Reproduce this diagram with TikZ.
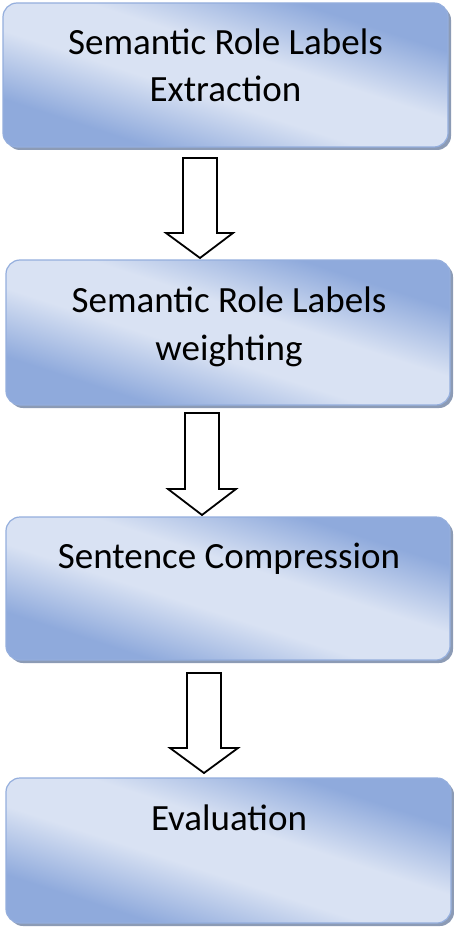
\documentclass[tikz,border=0pt]{standalone}
\usepackage{fontspec}
\setmainfont{Carlito}
\usetikzlibrary{shadows,calc}
\definecolor{dk}{HTML}{8FAADC}
\definecolor{lt}{HTML}{D9E2F3}
\definecolor{edge}{HTML}{94AEDD}
\definecolor{shad}{HTML}{8C9BB5}
\pgfdeclareverticalshading{boxshade}{100bp}{color(0bp)=(dk); color(29bp)=(dk); color(44bp)=(lt); color(56bp)=(lt); color(71bp)=(dk); color(100bp)=(dk)}
\tikzset{
  box/.style={rectangle, rounded corners=14pt, draw=edge, line width=1.2pt,
    shading=boxshade, shading angle=-18,
    drop shadow={shadow xshift=3pt, shadow yshift=-3pt, fill=shad, opacity=1},
    inner sep=0pt},
  lbl/.style={font=\fontsize{37}{47}\selectfont, text=black, inner sep=0pt, anchor=base},
  blockarrow/.style={draw=black, line width=1.8pt, fill=white, line join=miter}
}
\begin{document}
\begin{tikzpicture}[x=1pt,y=-1pt]
\useasboundingbox (0,0) rectangle (453,928);
% boxes
\node[box, minimum width=445pt, minimum height=144pt] (b1) at (225.5,75) {};
\node[box, minimum width=444pt, minimum height=145pt] (b2) at (228,332.5) {};
\node[box, minimum width=444pt, minimum height=143pt] (b3) at (228,588.5) {};
\node[box, minimum width=445pt, minimum height=145pt] (b4) at (228.5,850.5) {};
% labels
\node[lbl] (t1a) at (225.5,55) {Semantic Role Labels};
\node[lbl] (t1b) at (225.5,102) {Extraction};
\node[lbl] (t2a) at (229,312) {Semantic Role Labels};
\node[lbl] (t2b) at (229,360) {weighting};
\node[lbl] (t3) at (229,568) {Sentence Compression};
\node[lbl] (t4) at (229,830) {Evaluation};
% block arrows
\draw[blockarrow] (183,158) -- (217,158) -- (217,233) -- (233,233) -- (200,258) -- (166,233) -- (183,233) -- cycle;
\draw[blockarrow] (185,413) -- (219,413) -- (219,489) -- (236,489) -- (202,515) -- (168,489) -- (185,489) -- cycle;
\draw[blockarrow] (187,673) -- (221,673) -- (221,748) -- (238,748) -- (204,773) -- (170,748) -- (187,748) -- cycle;
\end{tikzpicture}
\end{document}
